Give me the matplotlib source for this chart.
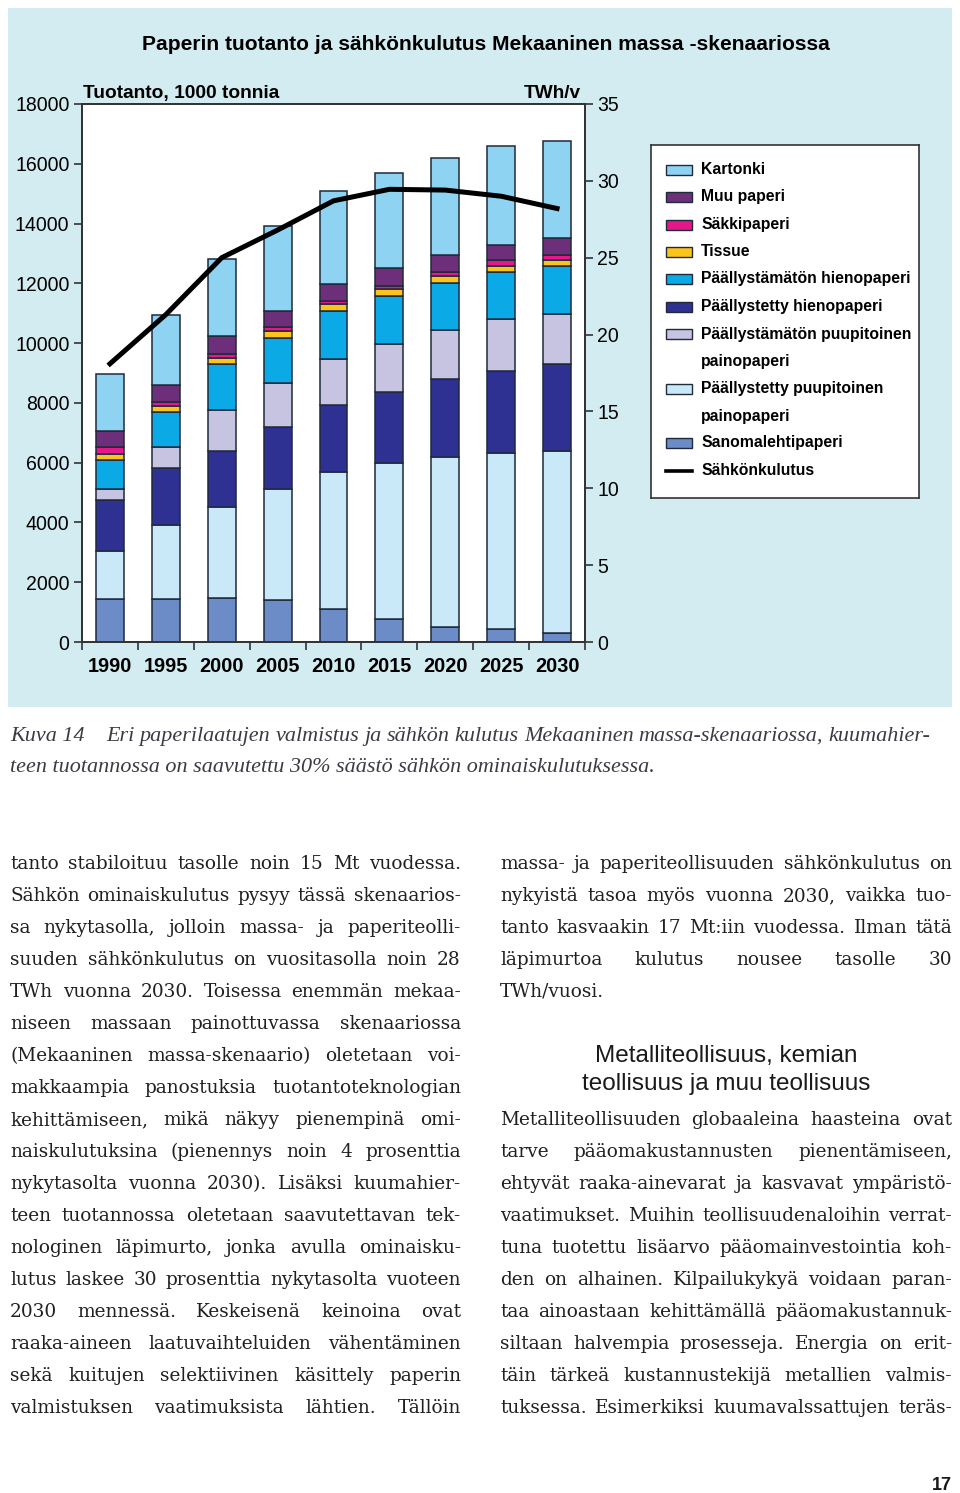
import numpy as np
import matplotlib
matplotlib.use("Agg")
import matplotlib.pyplot as plt
from matplotlib import font_manager
from matplotlib.patches import Rectangle

W, H = 960, 1493

# --- data (1000 t) ---
years = ['1990', '1995', '2000', '2005', '2010', '2015', '2020', '2025', '2030']
sanomalehti = [1440, 1440, 1480, 1400, 1090, 780, 500, 430, 300]
paall_puupit = [1620, 2480, 3030, 3710, 4600, 5210, 5690, 5890, 6090]
paall_hieno = [1700, 1910, 1870, 2070, 2250, 2380, 2610, 2760, 2900]
paalm_puupit = [370, 690, 1370, 1490, 1530, 1610, 1630, 1740, 1690]
paalm_hieno = [970, 1190, 1560, 1500, 1620, 1600, 1590, 1550, 1590]
tissue = [190, 180, 190, 220, 210, 220, 230, 210, 220]
sakki = [240, 150, 150, 140, 100, 120, 130, 190, 160]
muu = [540, 550, 580, 560, 590, 590, 570, 510, 560]
kartonki = [1900, 2350, 2600, 2840, 3110, 3190, 3260, 3310, 3240]
# TWh/v
sahko = [18.1, 21.3, 25.0, 26.8, 28.7, 29.45, 29.4, 29.0, 28.2]

# stacking order, bottom up
series = [
    ('Sanomalehtipaperi', sanomalehti, '#6b8cc7'),
    ('Päällystetty puupitoinen\npainopaperi', paall_puupit, '#c9e9f8'),
    ('Päällystetty hienopaperi', paall_hieno, '#2e3192'),
    ('Päällystämätön puupitoinen\npainopaperi', paalm_puupit, '#c7c4e1'),
    ('Päällystämätön hienopaperi', paalm_hieno, '#0ba9e6'),
    ('Tissue', tissue, '#fbc31c'),
    ('Säkkipaperi', sakki, '#e6168b'),
    ('Muu paperi', muu, '#6d2f79'),
    ('Kartonki', kartonki, '#8fd3f3'),
]
# order of the legend rows (indices into series)
legend_order = [8, 7, 6, 5, 4, 2, 3, 1, 0]

left_ticks = [0, 2000, 4000, 6000, 8000, 10000, 12000, 14000, 16000, 18000]
right_ticks = [0, 5, 10, 15, 20, 25, 30, 35]

names = {f.name for f in font_manager.fontManager.ttflist}
NARROW = 'Liberation Sans Narrow' if 'Liberation Sans Narrow' in names else 'Liberation Sans'
SERIF = 'DejaVu Serif'
ISERIF = 'Liberation Serif'
SANS = 'Liberation Sans'

fig = plt.figure(figsize=(W / 100, H / 100), dpi=100)
fig.patch.set_facecolor('white')
r = fig.canvas.get_renderer()


def fx(x):
    return x / W


def fy(y):
    return 1 - y / H


def text_w(s, size, **kw):
    t = fig.text(0, 0, s, fontsize=size, **kw)
    w = t.get_window_extent(r).width
    t.remove()
    return w


def fit(s, target, **kw):
    return 20 * target / text_w(s, 20, **kw)


def put_line(s, x0, x1, yb, justify=True, **kw):
    words = s.split(' ')
    if not justify or len(words) < 2:
        fig.text(fx(x0), fy(yb), s, ha='left', va='baseline', **kw)
        return
    texts = [fig.text(0, 0, w, va='baseline', ha='left', **kw) for w in words]
    widths = [t.get_window_extent(r).width for t in texts]
    gap = (x1 - x0 - sum(widths)) / (len(words) - 1)
    x = x0
    for t, w in zip(texts, widths):
        t.set_position((fx(x), fy(yb)))
        x += w + gap


# light blue panel behind the chart
fig.patches.append(Rectangle((fx(8), fy(707)), fx(944), 699 / H, transform=fig.transFigure,
                             facecolor='#d3ecf1', edgecolor='none', zorder=-5))

# --- chart ---
ax = fig.add_axes([fx(82), fy(642), fx(503), 538 / H])
ax.set_facecolor('white')
x = np.arange(len(years))
bottom = np.zeros(len(years))
for name, vals, col in series:
    ax.bar(x, vals, 0.5, bottom=bottom, color=col, edgecolor='#1f2a3a', linewidth=1.1, zorder=2)
    bottom += np.array(vals)
ax.set_xlim(-0.5, len(years) - 0.5)
ax.set_ylim(0, 18000)
ax.set_yticks(left_ticks)
ax.set_xticks(x)
ax.set_xticks(np.arange(-0.5, len(years)), minor=True)
ax.tick_params(axis='x', which='major', length=0, pad=11)
ax.tick_params(axis='x', which='minor', length=6, width=1.2, color='#333333')

lab_size = fit('18000', 53, family=NARROW) * 1.03
xl_size = fit('1990', 44, family=NARROW, weight='bold')
ax.set_xticklabels(years, fontsize=xl_size, fontweight='bold', family=NARROW)
ax.set_yticklabels([str(v) for v in left_ticks], fontsize=lab_size, family=NARROW)
ax.tick_params(axis='y', length=6, width=1.2, pad=3, color='#333333')
for s in ax.spines.values():
    s.set_linewidth(1.3)
    s.set_color('#333333')

ax2 = ax.twinx()
ax2.plot(x, sahko, color='black', linewidth=3.6, solid_joinstyle='miter', zorder=3)
ax2.set_ylim(0, 35)
ax2.set_yticks(right_ticks)
ax2.set_yticklabels([str(v) for v in right_ticks], fontsize=lab_size, family=NARROW)
ax2.tick_params(axis='y', length=6, width=1.2, pad=3, color='#333333')
for s in ax2.spines.values():
    s.set_linewidth(1.3)
    s.set_color('#333333')

title = 'Paperin tuotanto ja sähkönkulutus Mekaaninen massa -skenaariossa'
fig.text(fx(486), fy(50), title, ha='center', va='baseline', fontweight='bold', family=NARROW,
         fontsize=fit(title, 688, family=NARROW, weight='bold'))
fig.text(fx(83), fy(98), 'Tuotanto, 1000 tonnia', ha='left', va='baseline', fontweight='bold',
         family=NARROW, fontsize=fit('Tuotanto, 1000 tonnia', 196, family=NARROW, weight='bold'))
fig.text(fx(581), fy(98), 'TWh/v', ha='right', va='baseline', fontweight='bold',
         family=NARROW, fontsize=fit('TWh/v', 57, family=NARROW, weight='bold'))

# --- legend box ---
lax = fig.add_axes([fx(651), fy(498), fx(268), 353 / H])
lax.set_xlim(651, 919)
lax.set_ylim(498, 145)
lax.set_xticks([])
lax.set_yticks([])
for s in lax.spines.values():
    s.set_linewidth(1.2)
    s.set_color('#333333')
leg_size = fit('Päällystämätön hienopaperi', 209, family=NARROW, weight='bold')
row_y = [170, 197, 225, 252, 279, 307, 334, 389, 443]
for idx, yy in zip(legend_order, row_y):
    name, vals, col = series[idx]
    lax.add_patch(Rectangle((666, yy - 5), 26, 10, facecolor=col, edgecolor='#1f2a3a', linewidth=1))
    for k, ln in enumerate(name.split('\n')):
        lax.text(701, yy + k * 27.5, ln, va='center', ha='left', fontweight='bold',
                 family=NARROW, fontsize=leg_size)
lax.plot([666, 692], [471, 471], color='black', linewidth=2.6)
lax.text(701, 471, 'Sähkönkulutus', va='center', ha='left', fontweight='bold',
         family=NARROW, fontsize=leg_size)

# --- caption ---
cap_col = '#3b3b45'
cap2 = 'teen tuotannossa on saavutettu 30% säästö sähkön ominaiskulutuksessa.'
cap_size = fit(cap2, 645, family=ISERIF, style='italic')
fig.text(fx(10), fy(741), 'Kuva 14', ha='left', va='baseline', family=ISERIF, style='italic',
         fontsize=cap_size, color=cap_col)
put_line('Eri paperilaatujen valmistus ja sähkön kulutus Mekaaninen massa-skenaariossa, kuumahier-',
         106, 930, 741, family=ISERIF, style='italic', fontsize=cap_size, color=cap_col)
put_line(cap2, 10, 655, 772, justify=False, family=ISERIF, style='italic', fontsize=cap_size, color=cap_col)

# --- body text ---
left_col = [
    'tanto stabiloituu tasolle noin 15 Mt vuodessa.',
    'Sähkön ominaiskulutus pysyy tässä skenaarios-',
    'sa nykytasolla, jolloin massa- ja paperiteolli-',
    'suuden sähkönkulutus on vuositasolla noin 28',
    'TWh vuonna 2030. Toisessa enemmän mekaa-',
    'niseen massaan painottuvassa skenaariossa',
    '(Mekaaninen massa-skenaario) oletetaan voi-',
    'makkaampia panostuksia tuotantoteknologian',
    'kehittämiseen, mikä näkyy pienempinä omi-',
    'naiskulutuksina (pienennys noin 4 prosenttia',
    'nykytasolta vuonna 2030). Lisäksi kuumahier-',
    'teen tuotannossa oletetaan saavutettavan tek-',
    'nologinen läpimurto, jonka avulla ominaisku-',
    'lutus laskee 30 prosenttia nykytasolta vuoteen',
    '2030 mennessä. Keskeisenä keinoina ovat',
    'raaka-aineen laatuvaihteluiden vähentäminen',
    'sekä kuitujen selektiivinen käsittely paperin',
    'valmistuksen vaatimuksista lähtien. Tällöin',
]
right_top = [
    'massa- ja paperiteollisuuden sähkönkulutus on',
    'nykyistä tasoa myös vuonna 2030, vaikka tuo-',
    'tanto kasvaakin 17 Mt:iin vuodessa. Ilman tätä',
    'läpimurtoa kulutus nousee tasolle 30',
]
right_bottom = [
    'Metalliteollisuuden globaaleina haasteina ovat',
    'tarve pääomakustannusten pienentämiseen,',
    'ehtyvät raaka-ainevarat ja kasvavat ympäristö-',
    'vaatimukset. Muihin teollisuudenaloihin verrat-',
    'tuna tuotettu lisäarvo pääomainvestointia koh-',
    'den on alhainen. Kilpailukykyä voidaan paran-',
    'taa ainoastaan kehittämällä pääomakustannuk-',
    'siltaan halvempia prosesseja. Energia on erit-',
    'täin tärkeä kustannustekijä metallien valmis-',
    'tuksessa. Esimerkiksi kuumavalssattujen teräs-',
]

body_col = '#231f20'
widest = max(text_w(s, 20, family=SERIF) for s in left_col + right_top + right_bottom)
body_size = min(14.0, 20 * 446 / widest)
kw = dict(family=SERIF, fontsize=body_size, color=body_col)
for i, s in enumerate(left_col):
    put_line(s, 10, 461, 869 + 32 * i, **kw)
for i, s in enumerate(right_top):
    put_line(s, 500, 952, 869 + 32 * i, **kw)
put_line('TWh/vuosi.', 500, 952, 869 + 32 * 4, justify=False, **kw)
for i, s in enumerate(right_bottom):
    put_line(s, 500, 952, 869 + 32 * (8 + i), **kw)

head_size = fit('Metalliteollisuus, kemian', 262, family=SANS)
fig.text(fx(726), fy(1062), 'Metalliteollisuus, kemian', ha='center', va='baseline',
         family=SANS, fontsize=head_size, color='#1a1a1a')
fig.text(fx(726), fy(1090), 'teollisuus ja muu teollisuus', ha='center', va='baseline',
         family=SANS, fontsize=head_size, color='#1a1a1a')

fig.text(fx(952), fy(1490), '17', ha='right', va='baseline', family=SANS, fontweight='bold',
         fontsize=13, color='#1a1a1a')

fig.savefig('out.png', dpi=100)
